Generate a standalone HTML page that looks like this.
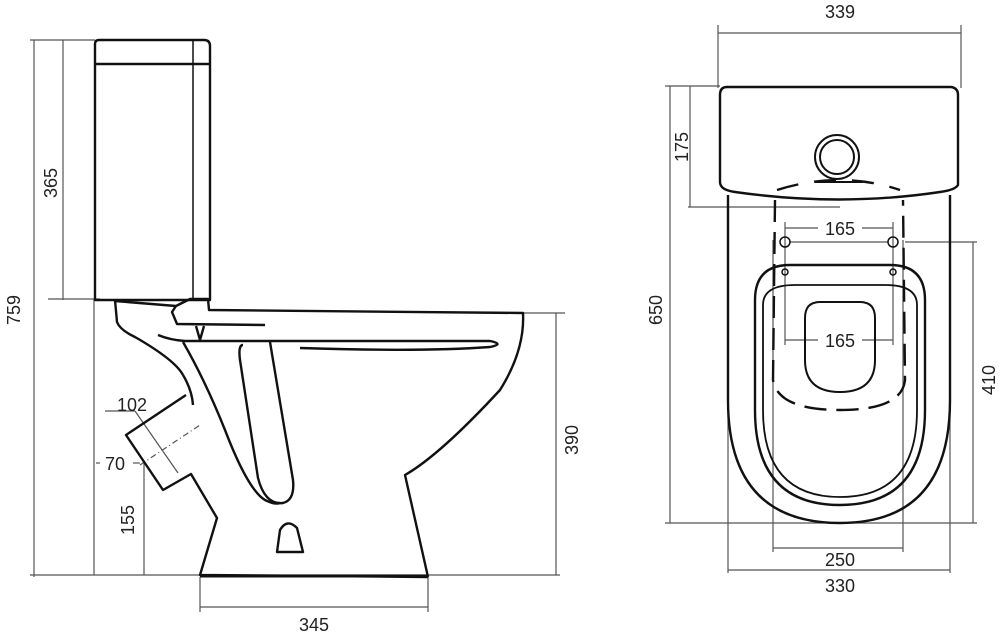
<!DOCTYPE html>
<html><head><meta charset="utf-8"><style>
html,body{margin:0;padding:0;background:#fff;}
svg{display:block;}
text{font-family:"Liberation Sans",sans-serif;font-size:18px;fill:#222;}
</style></head><body>
<svg width="1000" height="637" viewBox="0 0 1000 637" xmlns="http://www.w3.org/2000/svg">
<g fill="none" stroke="#555" stroke-width="1.2">
<line x1="30" y1="40" x2="95" y2="40"/>
<line x1="34" y1="40" x2="34" y2="577"/>
<line x1="63" y1="40" x2="63" y2="300"/>
<line x1="48" y1="299" x2="100" y2="299"/>
<line x1="94" y1="299" x2="94" y2="575"/>
<line x1="30" y1="575" x2="560" y2="575"/>
<line x1="144" y1="461" x2="144" y2="575"/>
<line x1="200" y1="577" x2="200" y2="612"/>
<line x1="428" y1="577" x2="428" y2="612"/>
<line x1="200" y1="607" x2="428" y2="607"/>
<line x1="523" y1="313" x2="565" y2="313"/>
<line x1="556" y1="313" x2="556" y2="575"/>
<line x1="105" y1="411" x2="135" y2="411"/>
<line x1="135" y1="411" x2="178" y2="473"/>
<line x1="96" y1="463" x2="100" y2="463"/>
<line x1="133" y1="463" x2="140" y2="463"/>
<line x1="140" y1="465" x2="200" y2="425" stroke-dasharray="6,3,1,3"/>
<line x1="718" y1="25" x2="718" y2="88"/>
<line x1="961" y1="25" x2="961" y2="88"/>
<line x1="718" y1="33" x2="961" y2="33"/>
<line x1="665" y1="86" x2="720" y2="86"/>
<line x1="690" y1="86" x2="690" y2="207"/>
<line x1="688" y1="207" x2="840" y2="207"/>
<line x1="670" y1="86" x2="670" y2="523"/>
<line x1="665" y1="523" x2="977" y2="523"/>
<line x1="905" y1="242" x2="977" y2="242"/>
<line x1="973" y1="242" x2="973" y2="523"/>
<line x1="773" y1="240" x2="773" y2="552"/>
<line x1="903" y1="240" x2="903" y2="552"/>
<line x1="773" y1="548" x2="903" y2="548"/>
<line x1="728" y1="400" x2="728" y2="573"/>
<line x1="950" y1="400" x2="950" y2="573"/>
<line x1="728" y1="570" x2="950" y2="570"/>
<line x1="785" y1="222" x2="785" y2="345"/>
<line x1="893" y1="222" x2="893" y2="345"/>
<line x1="785" y1="228" x2="818" y2="228"/>
<line x1="862" y1="228" x2="893" y2="228"/>
<line x1="785" y1="340" x2="818" y2="340"/>
<line x1="862" y1="340" x2="893" y2="340"/>
<line x1="790" y1="242" x2="888" y2="242"/>
</g>
<g fill="none" stroke="#111" stroke-width="2.4" stroke-linejoin="round">
<path d="M95,300 L95,44 Q95,40 99,40 L204,40 Q210,40 210,46 L210,300 Z"/>
<line x1="95" y1="64" x2="210" y2="64"/>
<line x1="193" y1="40" x2="193" y2="300" stroke-width="1.5"/>
<path d="M115,300 L117,322 Q120,330 135,337 Q175,360 183,375"/>
<path d="M183,375 Q192,390 193,405"/>
<path d="M115,301 L176,306 L190,299 L208,299 L209,310 L523,313 Q525,350 500,390 Q440,455 405,475 L428,577"/>
<path d="M186,395 L126,435 L163,490 L191,474 L217,518 L200,575 L428,577" />
<line x1="200" y1="576" x2="428" y2="576" stroke-width="3"/>
<path d="M176,306 L172,312 L177,324 L265,325"/>
<path d="M158,335 Q170,340 185,341 L490,341 Q505,344 490,347 Q420,352 300,348"/>
<path d="M196,326 L200,340 L204,326"/>
<path d="M183,342 Q205,380 225,430 Q248,490 265,500 Q275,505 280,503"/>
<path d="M243,345 Q238,345 240,360 L258,478 Q265,505 283,503 Q295,500 293,480 L270,342"/>
<path d="M277,552 L280,530 Q287,518 297,528 L303,552 Z"/>
<path d="M727,87 L951,87 Q958,88 958,95 L958,185 Q955,190 940,192 Q840,207 735,192 Q720,190 720,182 L720,95 Q720,87 727,87 Z"/>
<circle cx="837" cy="157" r="22" stroke-width="2"/>
<circle cx="837" cy="157" r="17" stroke-width="2"/>
<line x1="815" y1="182" x2="863" y2="182" stroke-width="2"/>
<path d="M728,195 L728,400 Q728,523 840,523 Q950,523 950,400 L950,195"/>
<path d="M755,300 Q755,265 790,265 L890,265 Q925,265 925,300 L925,410 Q925,505 840,505 Q755,505 755,410 Z"/>
<path d="M763,305 Q763,285 795,285 L885,285 Q917,285 917,305 L917,410 Q917,497 840,497 Q763,497 763,410 Z" stroke-width="1.8"/>
<path d="M805,318 Q805,302 820,302 L860,302 Q875,302 875,318 L875,360 Q875,392 840,392 Q805,392 805,360 Z" stroke-width="2"/>
<path d="M775,200 L773,380 Q778,410 840,410 Q902,410 905,380 L903,200" stroke-dasharray="22,10"/>
<path d="M777,190 Q840,170 900,190" stroke-dasharray="22,16"/>
<circle cx="785" cy="242" r="5" stroke-width="1.5"/>
<circle cx="893" cy="242" r="5" stroke-width="1.5"/>
<circle cx="785" cy="272" r="3" stroke-width="1.5"/>
<circle cx="893" cy="272" r="3" stroke-width="1.5"/>
</g>
<text x="117" y="411" font-size="15">102</text>
<text x="105" y="470">70</text>
<text transform="translate(134,520) rotate(-90)" text-anchor="middle">155</text>
<text transform="translate(20,310) rotate(-90)" text-anchor="middle">759</text>
<text transform="translate(57,183) rotate(-90)" text-anchor="middle">365</text>
<text transform="translate(578,440) rotate(-90)" text-anchor="middle">390</text>
<text x="314" y="631" text-anchor="middle">345</text>
<text x="840" y="18" text-anchor="middle">339</text>
<text transform="translate(688,147) rotate(-90)" text-anchor="middle">175</text>
<text transform="translate(662,310) rotate(-90)" text-anchor="middle">650</text>
<text transform="translate(995,380) rotate(-90)" text-anchor="middle">410</text>
<text x="840" y="235" text-anchor="middle">165</text>
<text x="840" y="347" text-anchor="middle">165</text>
<text x="840" y="566" text-anchor="middle" font-size="16">250</text>
<text x="840" y="592" text-anchor="middle">330</text>
</svg>
</body></html>
